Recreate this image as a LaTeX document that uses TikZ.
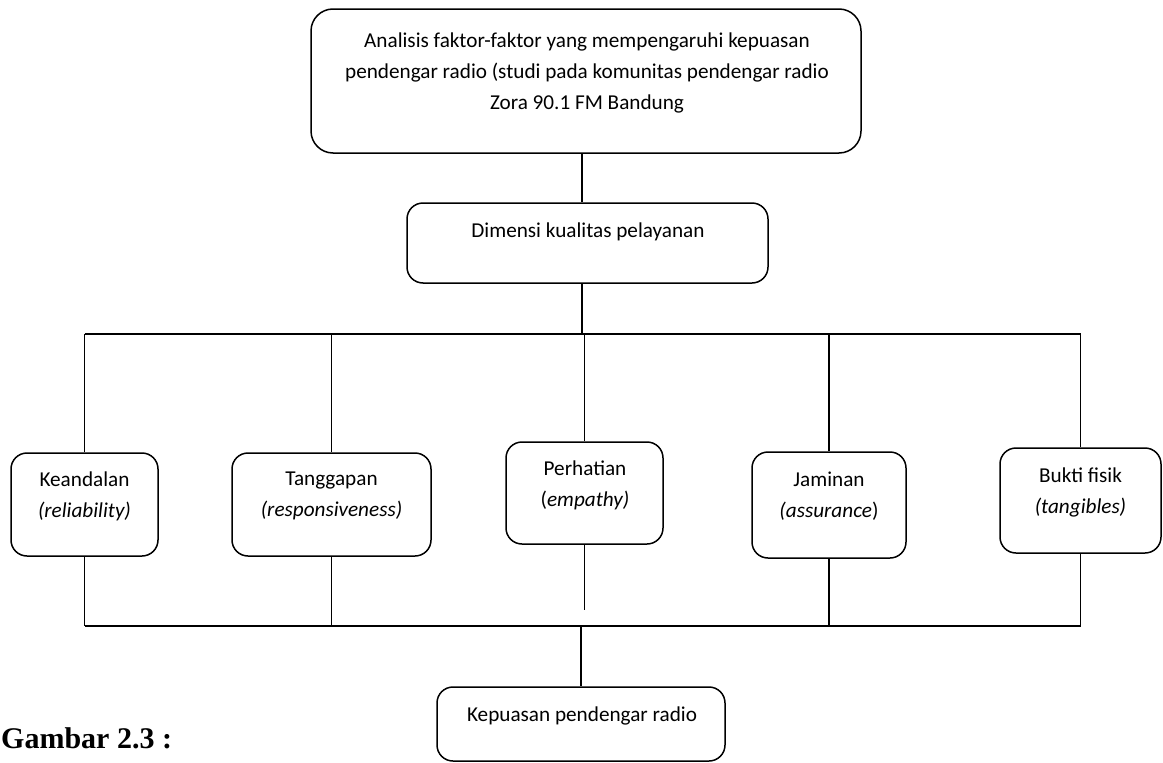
\documentclass[tikz,border=0pt]{standalone}
\usepackage{fontspec}
\setmainfont{Carlito}
\newfontfamily\capfont{Liberation Serif}

\begin{document}
\begin{tikzpicture}[x=1pt,y=-1pt,
  box/.style={draw,line width=1.5pt,rounded corners=16pt,inner sep=0pt},
  txt/.style={align=center,inner sep=0pt,font=\fontsize{21.2}{31}\selectfont}]
\useasboundingbox (0,0) rectangle (1163,763);

\node[box,rounded corners=22pt,minimum width=550pt,minimum height=144pt] (top) at (586,81) {};
\node[txt] (top-t) at (587,73) {Analisis faktor-faktor yang mempengaruhi kepuasan\\pendengar radio (studi pada komunitas pendengar radio\\Zora 90.1 FM Bandung};

\node[box,minimum width=361pt,minimum height=80pt] (dim) at (587.5,243) {};
\node[txt] (dim-t) at (588,232) {Dimensi kualitas pelayanan};

% lima dimensi
\node[box,minimum width=147pt,minimum height=103pt] (kean) at (84.5,504.5) {};
\node[txt] (kean-t) at (84.5,496) {Keandalan\\\textit{(reliability)}};
\node[box,minimum width=199pt,minimum height=103pt] (tangg) at (331.5,504.5) {};
\node[txt] (tangg-t) at (331.5,496) {Tanggapan\\\textit{(responsiveness)}};
\node[box,minimum width=157pt,minimum height=102pt] (perh) at (584.5,493) {};
\node[txt] (perh-t) at (585,485) {Perhatian\\(\textit{empathy)}};
\node[box,minimum width=154pt,minimum height=106pt] (jamin) at (829,505) {};
\node[txt] (jamin-t) at (829,496) {Jaminan\\\textit{(assurance})};
\node[box,minimum width=161pt,minimum height=105pt] (bukti) at (1080.5,500.5) {};
\node[txt] (bukti-t) at (1080.5,492) {Bukti fisik\\\textit{(tangibles)}};

\node[box,minimum width=288pt,minimum height=74pt] (kep) at (581,724) {};
\node[txt] (kep-t) at (582,716) {Kepuasan pendengar radio};

\node[anchor=base west,inner sep=0pt,font={\capfont\bfseries\fontsize{30}{36}\selectfont}] (cap) at (1,748) {Gambar 2.3 :};

% garis penghubung
\coordinate (trunk) at (582,334);
\coordinate (lowbus) at (582,626);
\coordinate (perh-end) at (582,610);
\begin{scope}[line width=1.5pt]
\draw (top.south -| trunk) -- (dim.north -| trunk);
\draw (dim.south -| trunk) -- (trunk);
\draw (kean.north |- trunk) -- (bukti.north |- trunk);
\foreach \n in {kean,tangg,perh,jamin,bukti}
  \draw (\n.north |- trunk) -- (\n.north);
\draw (kean.south |- lowbus) -- (bukti.south |- lowbus);
\foreach \n in {kean,tangg,jamin,bukti}
  \draw (\n.south) -- (\n.south |- lowbus);
\draw (perh.south) -- (perh.south |- perh-end);
\draw (kep.north |- lowbus) -- (kep.north);
\end{scope}
\end{tikzpicture}
\end{document}
